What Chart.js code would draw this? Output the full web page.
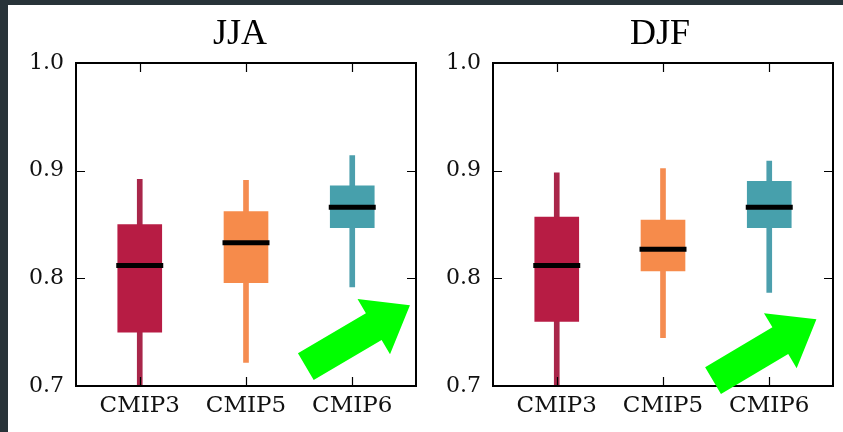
<!DOCTYPE html>
<html>
<head>
<meta charset="utf-8">
<script src="https://cdn.jsdelivr.net/npm/chart.js@4.4.0/dist/chart.umd.min.js"></script>
<style>
  html, body { margin: 0; padding: 0; width: 843px; height: 432px; overflow: hidden; background: #283339; }
  #paper { position: absolute; left: 8px; top: 5px; width: 835px; height: 427px; background: #ffffff; }
  canvas { position: absolute; top: 0; }
  #c1 { left: 0px; }
  #c2 { left: 440px; }
</style>
</head>
<body>
<div id="paper"></div>
<canvas id="c1" width="480" height="432"></canvas>
<canvas id="c2" width="440" height="432"></canvas>
<script>
// ---- data ----
const categories = ['CMIP3', 'CMIP5', 'CMIP6'];
const seasons = ['JJA', 'DJF'];
const yTicks = [0.7, 0.8, 0.9, 1.0];

const jjaWhiskerLow  = [0.680, 0.722, 0.792];
const jjaQ1          = [0.750, 0.796, 0.847];
const jjaMedian      = [0.812, 0.833, 0.866];
const jjaQ3          = [0.850, 0.862, 0.886];
const jjaWhiskerHigh = [0.892, 0.891, 0.914];

const djfWhiskerLow  = [0.680, 0.745, 0.787];
const djfQ1          = [0.760, 0.807, 0.847];
const djfMedian      = [0.812, 0.827, 0.866];
const djfQ3          = [0.857, 0.854, 0.890];
const djfWhiskerHigh = [0.898, 0.902, 0.909];

// arrow annotations (data coordinates: [x, y])
const jjaArrowTail = [2.563, 0.718];
const jjaArrowTip  = [3.543, 0.775];
const djfArrowTail = [2.471, 0.705];
const djfArrowTip  = [3.444, 0.762];

const boxColors     = ['#b71c44', '#f68b4b', '#47a0ac'];
const whiskerColors = ['#a9264a', '#f58c50', '#4c9fad'];

// ---- plugin: matplotlib-like frame, inward ticks, arrow ----
const framePlugin = {
  id: 'frame',
  afterDraw(chart, args, opts) {
    const ctx = chart.ctx, a = chart.chartArea;
    const xs = chart.scales.x, ys = chart.scales.y;
    ctx.save();
    ctx.strokeStyle = '#000';
    ctx.lineWidth = 1.2;
    const L = 9;
    ctx.beginPath();
    xs.ticks.forEach(t => {
      const px = Math.round(xs.getPixelForValue(t.value)) + 0.5;
      ctx.moveTo(px, a.bottom); ctx.lineTo(px, a.bottom - L);
      ctx.moveTo(px, a.top); ctx.lineTo(px, a.top + L);
    });
    ys.ticks.forEach(t => {
      const py = Math.round(ys.getPixelForValue(t.value)) + 0.5;
      ctx.moveTo(a.left, py); ctx.lineTo(a.left + L, py);
      ctx.moveTo(a.right, py); ctx.lineTo(a.right - L, py);
    });
    ctx.stroke();
    ctx.lineWidth = 2;
    ctx.strokeRect(a.left, a.top, a.right - a.left, a.bottom - a.top);

    // arrow
    const ar = opts.arrow;
    if (ar) {
      const x0 = xs.getPixelForValue(ar.tail[0]), y0 = ys.getPixelForValue(ar.tail[1]);
      const x1 = xs.getPixelForValue(ar.tip[0]),  y1 = ys.getPixelForValue(ar.tip[1]);
      const len = Math.hypot(x1 - x0, y1 - y0);
      const dx = (x1 - x0) / len, dy = (y1 - y0) / len;
      const nx = -dy, ny = dx;
      const sw = 31 / 2, hw = 64 / 2, hl = 42;
      const bx = x1 - dx * hl, by = y1 - dy * hl;
      ctx.beginPath();
      ctx.moveTo(x0 + nx * sw, y0 + ny * sw);
      ctx.lineTo(bx + nx * sw, by + ny * sw);
      ctx.lineTo(bx + nx * hw, by + ny * hw);
      ctx.lineTo(x1, y1);
      ctx.lineTo(bx - nx * hw, by - ny * hw);
      ctx.lineTo(bx - nx * sw, by - ny * sw);
      ctx.lineTo(x0 - nx * sw, y0 - ny * sw);
      ctx.closePath();
      ctx.fillStyle = '#00ff00';
      ctx.fill();
    }
    ctx.restore();
  }
};

function makeChart(canvasId, title, wLow, q1, med, q3, wHigh, arrowTail, arrowTip, yWidth, y2Width) {
  const idx = categories.map((c, i) => i + 1);
  return new Chart(document.getElementById(canvasId), {
    type: 'bar',
    data: {
      datasets: [
        {
          type: 'scatter',
          data: idx.map((x, i) => ({ x: x, y: med[i] })),
          pointStyle: 'line',
          pointRadius: 23.5,
          pointHoverRadius: 23.5,
          borderColor: '#000',
          backgroundColor: '#000',
          pointBorderWidth: 5,
          borderWidth: 5,
          order: 0
        },
        {
          type: 'bar',
          data: idx.map((x, i) => ({ x: x, y: [q1[i], q3[i]] })),
          backgroundColor: boxColors,
          borderWidth: 0,
          barThickness: 44,
          grouped: false,
          order: 1
        },
        {
          type: 'bar',
          data: idx.map((x, i) => ({ x: x, y: [wLow[i], wHigh[i]] })),
          backgroundColor: whiskerColors,
          borderWidth: 0,
          barThickness: 5,
          grouped: false,
          order: 2
        }
      ]
    },
    options: {
      responsive: false,
      animation: false,
      devicePixelRatio: 1,
      events: [],
      layout: { padding: 0 },
      plugins: {
        legend: { display: false },
        tooltip: { enabled: false },
        title: {
          display: true,
          text: title,
          color: '#000',
          font: { family: 'Liberation Serif', size: 36, weight: 'normal', lineHeight: 1 },
          padding: { top: 17, bottom: 10 }
        },
        frame: { arrow: { tail: arrowTail, tip: arrowTip } }
      },
      scales: {
        x: {
          type: 'linear',
          min: 0.4,
          max: 3.6,
          offset: false,
          grid: { display: false, drawTicks: false },
          border: { display: false },
          afterBuildTicks: s => { s.ticks = idx.map(v => ({ value: v })); },
          afterFit: s => { s.height = 46; },
          ticks: {
            autoSkip: false,
            maxRotation: 0,
            padding: 6,
            color: '#111',
            font: { family: 'DejaVu Serif', size: 23 },
            callback: v => categories[Math.round(v) - 1]
          }
        },
        y: {
          type: 'linear',
          min: 0.7,
          max: 1.0,
          grid: { display: false, drawTicks: false },
          border: { display: false },
          afterBuildTicks: s => { s.ticks = yTicks.map(v => ({ value: v })); },
          afterFit: s => { s.width = yWidth; },
          ticks: {
            padding: 12,
            color: '#111',
            font: { family: 'DejaVu Serif', size: 22 },
            callback: v => Number(v).toFixed(1)
          }
        },
        y2: {
          type: 'linear',
          position: 'right',
          display: true,
          min: 0.7,
          max: 1.0,
          grid: { display: false, drawTicks: false },
          border: { display: false },
          ticks: { display: false },
          afterFit: s => { s.width = y2Width; }
        }
      }
    },
    plugins: [framePlugin]
  });
}

makeChart('c1', seasons[0], jjaWhiskerLow, jjaQ1, jjaMedian, jjaQ3, jjaWhiskerHigh, jjaArrowTail, jjaArrowTip, 76, 64);
makeChart('c2', seasons[1], djfWhiskerLow, djfQ1, djfMedian, djfQ3, djfWhiskerHigh, djfArrowTail, djfArrowTip, 53, 47);
</script>
</body>
</html>
